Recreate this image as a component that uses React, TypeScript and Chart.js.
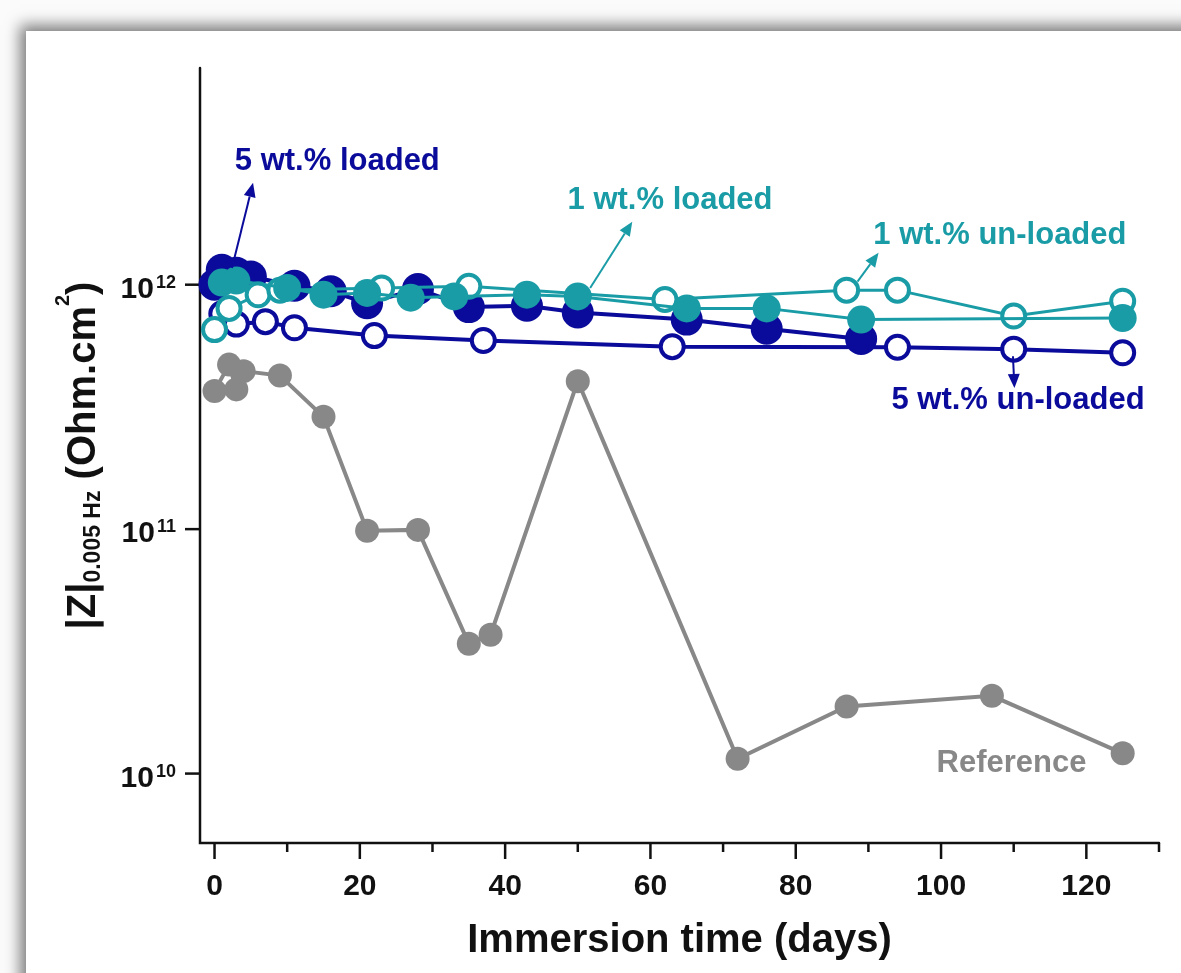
import React, { useEffect, useRef } from "react";
import { Chart, registerables } from "chart.js";

Chart.register(...registerables);

const DARK = "#0b0b9b";
const TEAL = "#1a9ca6";
const GREY = "#888888";
const INK = "#111111";
const FONT = '"Liberation Sans", Arial, Helvetica, sans-serif';

// ---- data (days, |Z| in Ohm.cm2) ----
const loaded5Days = [0, 1, 2, 3, 5, 11, 16, 21, 28, 35, 43, 50, 65, 76, 89];
const loaded5Z = [1.0e12, 1.15e12, 1.1e12, 1.12e12, 1.08e12, 9.9e11, 9.4e11, 8.4e11, 9.6e11, 8.1e11, 8.2e11, 7.7e11, 7.2e11, 6.6e11, 6.0e11];

const loaded1Days = [1, 3, 10, 15, 21, 27, 33, 43, 50, 65, 76, 89, 125];
const loaded1Z = [1.02e12, 1.04e12, 9.7e11, 9.1e11, 9.25e11, 8.85e11, 8.95e11, 9.1e11, 8.95e11, 8.0e11, 8.0e11, 7.2e11, 7.3e11];

const unloaded1Days = [0, 2, 6, 9, 23, 35, 62, 87, 94, 110, 125];
const unloaded1Z = [6.55e11, 8.0e11, 9.1e11, 9.5e11, 9.7e11, 9.85e11, 8.7e11, 9.5e11, 9.5e11, 7.45e11, 8.55e11];

const unloaded5Days = [1, 3, 7, 11, 22, 37, 63, 94, 110, 125];
const unloaded5Z = [7.6e11, 6.9e11, 7.06e11, 6.67e11, 6.19e11, 5.91e11, 5.58e11, 5.55e11, 5.45e11, 5.27e11];

const refDays = [0, 2, 3, 4, 9, 15, 21, 28, 35, 38, 50, 72, 87, 107, 125];
const refZ = [3.67e11, 4.71e11, 3.73e11, 4.43e11, 4.25e11, 2.88e11, 9.85e10, 9.93e10, 3.4e10, 3.7e10, 4.03e11, 1.15e10, 1.88e10, 2.08e10, 1.21e10];

// ---- axes ----
const xTickValues = [0, 10, 20, 30, 40, 50, 60, 70, 80, 90, 100, 110, 120, 130];
const xTickLabels = ["0", "", "20", "", "40", "", "60", "", "80", "", "100", "", "120", ""];
const yTickValues = [1e10, 1e11, 1e12];
const yTickExponents = ["10", "11", "12"];
const xTitle = "Immersion time (days)";

// ---- annotations (data coordinates) ----
const noteLabels = ["5 wt.% loaded", "1 wt.% loaded", "1 wt.% un-loaded", "5 wt.% un-loaded", "Reference"];
const noteColors = [DARK, TEAL, TEAL, DARK, GREY];
const noteAt: [number, number][] = [
  [16.9, 3.18e12],
  [62.7, 2.22e12],
  [108.1, 1.585e12],
  [110.6, 3.37e11],
  [109.7, 1.1e10],
];
const arrowFrom: ([number, number] | null)[] = [
  [2.4, 1.17e12],
  [51.7, 9.7e11],
  [88.5, 1.03e12],
  [109.9, 5.1e11],
  null,
];
const arrowTo: ([number, number] | null)[] = [
  [5.3, 2.61e12],
  [57.5, 1.81e12],
  [91.4, 1.35e12],
  [110.1, 3.78e11],
  null,
];

const pts = (xs: number[], ys: number[]) => xs.map((x, i) => ({ x, y: ys[i] }));

const axesPlugin = {
  id: "customAxes",
  beforeDatasetsDraw(chart: any) {
    const { ctx, chartArea, scales } = chart;
    const xs = scales.x;
    const ys = scales.y;
    const { left, top, right, bottom } = chartArea;
    ctx.save();
    ctx.strokeStyle = INK;
    ctx.fillStyle = INK;
    ctx.lineWidth = 2.5;
    ctx.lineCap = "round";
    ctx.beginPath();
    ctx.moveTo(left, top);
    ctx.lineTo(left, bottom);
    ctx.lineTo(right, bottom);
    ctx.stroke();
    ctx.lineCap = "butt";
    // x ticks
    ctx.font = `bold 30px ${FONT}`;
    ctx.textAlign = "center";
    ctx.textBaseline = "alphabetic";
    xTickValues.forEach((v, i) => {
      const px = xs.getPixelForValue(v);
      const major = xTickLabels[i] !== "";
      ctx.beginPath();
      ctx.moveTo(px, bottom);
      ctx.lineTo(px, bottom + (major ? 16 : 9));
      ctx.stroke();
      if (major) ctx.fillText(xTickLabels[i], px, bottom + 52);
    });
    // y ticks
    yTickValues.forEach((v, i) => {
      const py = ys.getPixelForValue(v);
      ctx.beginPath();
      ctx.moveTo(left - 15, py);
      ctx.lineTo(left, py);
      ctx.stroke();
      const exp = yTickExponents[i];
      ctx.font = `bold 18px ${FONT}`;
      const ew = ctx.measureText(exp).width;
      ctx.font = `bold 30px ${FONT}`;
      const bw = ctx.measureText("10").width;
      const r = left - 24;
      ctx.textAlign = "left";
      ctx.fillText("10", r - ew - 2 - bw, py + 13);
      ctx.font = `bold 18px ${FONT}`;
      ctx.fillText(exp, r - ew, py + 3);
    });
    // x title
    ctx.font = `bold 40px ${FONT}`;
    ctx.textAlign = "center";
    ctx.fillText(xTitle, (left + right) / 2, bottom + 109);
    // y title with sub/superscripts
    const parts: [string, number, number][] = [
      ["|Z|", 40, 0],
      ["0.005 Hz", 23, 5],
      [" (Ohm.cm", 40, 0],
      ["2", 20, -26],
      [")", 40, 0],
    ];
    let total = 0;
    const widths = parts.map(([t, s]) => {
      ctx.font = `bold ${s}px ${FONT}`;
      const w = ctx.measureText(t).width;
      total += w;
      return w;
    });
    ctx.translate(95, (top + bottom) / 2);
    ctx.rotate(-Math.PI / 2);
    ctx.textAlign = "left";
    let cx = -total / 2;
    parts.forEach(([t, s, off], i) => {
      ctx.font = `bold ${s}px ${FONT}`;
      ctx.fillText(t, cx, off);
      cx += widths[i];
    });
    ctx.restore();
  },
  afterDatasetsDraw(chart: any) {
    const { ctx, scales } = chart;
    const xs = scales.x;
    const ys = scales.y;
    ctx.save();
    ctx.font = `bold 31px ${FONT}`;
    ctx.textAlign = "center";
    ctx.textBaseline = "middle";
    noteLabels.forEach((label, i) => {
      const color = noteColors[i];
      ctx.fillStyle = color;
      ctx.strokeStyle = color;
      const [nx, ny] = noteAt[i];
      ctx.fillText(label, xs.getPixelForValue(nx), ys.getPixelForValue(ny));
      const f = arrowFrom[i];
      const t = arrowTo[i];
      if (f && t) {
        const x1 = xs.getPixelForValue(f[0]);
        const y1 = ys.getPixelForValue(f[1]);
        const x2 = xs.getPixelForValue(t[0]);
        const y2 = ys.getPixelForValue(t[1]);
        const ang = Math.atan2(y2 - y1, x2 - x1);
        const hl = 14;
        const hw = 6;
        const bx = x2 - hl * Math.cos(ang);
        const by = y2 - hl * Math.sin(ang);
        ctx.lineWidth = 2;
        ctx.beginPath();
        ctx.moveTo(x1, y1);
        ctx.lineTo(bx, by);
        ctx.stroke();
        ctx.beginPath();
        ctx.moveTo(x2, y2);
        ctx.lineTo(bx + hw * Math.sin(ang), by - hw * Math.cos(ang));
        ctx.lineTo(bx - hw * Math.sin(ang), by + hw * Math.cos(ang));
        ctx.closePath();
        ctx.fill();
      }
    });
    ctx.restore();
  },
};

export default function App() {
  const canvasRef = useRef<HTMLCanvasElement | null>(null);

  useEffect(() => {
    const canvas = canvasRef.current;
    if (!canvas) return;
    const chart = new Chart(canvas, {
      type: "line",
      data: {
        datasets: [
          {
            label: "1 wt.% loaded",
            data: pts(loaded1Days, loaded1Z),
            borderColor: TEAL,
            borderWidth: 3,
            pointRadius: 14,
            pointBackgroundColor: TEAL,
            pointBorderColor: TEAL,
            pointBorderWidth: 0,
            order: 1,
          },
          {
            label: "1 wt.% un-loaded",
            data: pts(unloaded1Days, unloaded1Z),
            borderColor: TEAL,
            borderWidth: 3,
            pointRadius: 11.5,
            pointBackgroundColor: "#ffffff",
            pointBorderColor: TEAL,
            pointBorderWidth: 4,
            order: 2,
          },
          {
            label: "5 wt.% un-loaded",
            data: pts(unloaded5Days, unloaded5Z),
            borderColor: DARK,
            borderWidth: 4,
            pointRadius: 11.5,
            pointBackgroundColor: "#ffffff",
            pointBorderColor: DARK,
            pointBorderWidth: 4,
            order: 3,
          },
          {
            label: "5 wt.% loaded",
            data: pts(loaded5Days, loaded5Z),
            borderColor: DARK,
            borderWidth: 4,
            pointRadius: 16,
            pointBackgroundColor: DARK,
            pointBorderColor: DARK,
            pointBorderWidth: 0,
            order: 4,
          },
          {
            label: "Reference",
            data: pts(refDays, refZ),
            borderColor: GREY,
            borderWidth: 4,
            pointRadius: 12,
            pointBackgroundColor: GREY,
            pointBorderColor: GREY,
            pointBorderWidth: 0,
            order: 5,
          },
        ] as any,
      },
      options: {
        responsive: false,
        animation: false,
        devicePixelRatio: 1,
        layout: { padding: { left: 200, top: 68, right: 22, bottom: 130 } },
        elements: { line: { tension: 0 } },
        datasets: { line: { clip: false } as any },
        scales: {
          x: { type: "linear", min: -2, max: 130, display: false },
          y: { type: "logarithmic", min: 5.2e9, max: 7.7e12, display: false },
        },
        plugins: {
          legend: { display: false },
          tooltip: { enabled: false },
        },
      } as any,
      plugins: [axesPlugin],
    });
    return () => chart.destroy();
  }, []);

  return (
    <div
      style={{
        position: "fixed",
        left: 0,
        top: 0,
        width: 1181,
        height: 973,
        background: "#fbfbfb",
        overflow: "hidden",
      }}
    >
      <div
        style={{
          position: "absolute",
          left: 26,
          top: 31,
          width: 1200,
          height: 1000,
          background: "#ffffff",
          boxShadow: "-5px -5px 14px 1px rgba(0,0,0,0.5)",
        }}
      />
      <canvas
        ref={canvasRef}
        width={1181}
        height={973}
        style={{ position: "absolute", left: 0, top: 0, width: 1181, height: 973 }}
      />
    </div>
  );
}
